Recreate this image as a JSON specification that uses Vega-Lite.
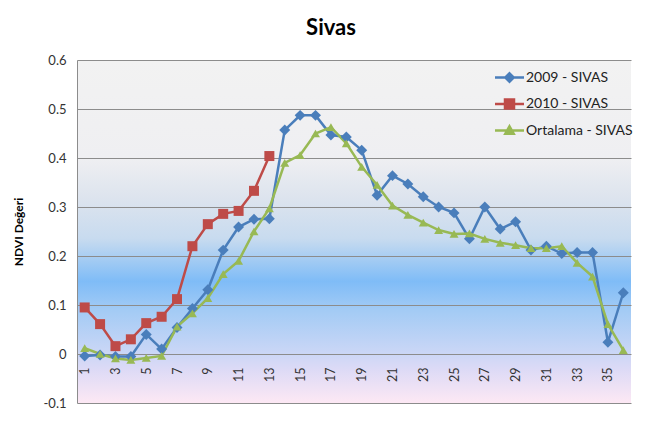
{
  "$schema": "https://vega.github.io/schema/vega-lite/v6.json",
  "autosize": {"type": "none"},
  "width": 554,
  "height": 343,
  "padding": {"left": 77, "top": 60, "right": 31, "bottom": 42},
  "background": "white",
  "title": {"text": "Sivas", "font": "Lato", "fontSize": 22, "fontWeight": "bold", "color": "#000000", "anchor": "middle", "dx": -23, "offset": 14},
  "config": {
    "font": "Lato",
    "view": {
      "stroke": null,
      "fill": {"gradient": "linear", "x1": 0, "y1": 0, "x2": 0, "y2": 1, "stops": [
        {"offset": 0, "color": "#f2f2f2"},
        {"offset": 0.286, "color": "#efeff2"},
        {"offset": 0.40, "color": "#dde4ee"},
        {"offset": 0.52, "color": "#c8dbef"},
        {"offset": 0.645, "color": "#7fbcf7"},
        {"offset": 0.73, "color": "#a3cbf5"},
        {"offset": 0.85, "color": "#c9d6f6"},
        {"offset": 0.90, "color": "#dcdaf6"},
        {"offset": 1, "color": "#fde8f4"}
      ]}
    },
    "legend": {"symbolOpacity": 1}
  },
  "data": {"values": [
    {"p":1,"s":"2009 - SIVAS","v":-0.004},{"p":2,"s":"2009 - SIVAS","v":-0.002},{"p":3,"s":"2009 - SIVAS","v":-0.005},{"p":4,"s":"2009 - SIVAS","v":-0.005},{"p":5,"s":"2009 - SIVAS","v":0.040},{"p":6,"s":"2009 - SIVAS","v":0.010},{"p":7,"s":"2009 - SIVAS","v":0.054},{"p":8,"s":"2009 - SIVAS","v":0.093},{"p":9,"s":"2009 - SIVAS","v":0.131},{"p":10,"s":"2009 - SIVAS","v":0.212},{"p":11,"s":"2009 - SIVAS","v":0.259},{"p":12,"s":"2009 - SIVAS","v":0.275},{"p":13,"s":"2009 - SIVAS","v":0.276},{"p":14,"s":"2009 - SIVAS","v":0.457},{"p":15,"s":"2009 - SIVAS","v":0.487},{"p":16,"s":"2009 - SIVAS","v":0.487},{"p":17,"s":"2009 - SIVAS","v":0.447},{"p":18,"s":"2009 - SIVAS","v":0.443},{"p":19,"s":"2009 - SIVAS","v":0.416},{"p":20,"s":"2009 - SIVAS","v":0.324},{"p":21,"s":"2009 - SIVAS","v":0.364},{"p":22,"s":"2009 - SIVAS","v":0.347},{"p":23,"s":"2009 - SIVAS","v":0.321},{"p":24,"s":"2009 - SIVAS","v":0.300},{"p":25,"s":"2009 - SIVAS","v":0.288},{"p":26,"s":"2009 - SIVAS","v":0.235},{"p":27,"s":"2009 - SIVAS","v":0.300},{"p":28,"s":"2009 - SIVAS","v":0.255},{"p":29,"s":"2009 - SIVAS","v":0.270},{"p":30,"s":"2009 - SIVAS","v":0.212},{"p":31,"s":"2009 - SIVAS","v":0.220},{"p":32,"s":"2009 - SIVAS","v":0.205},{"p":33,"s":"2009 - SIVAS","v":0.207},{"p":34,"s":"2009 - SIVAS","v":0.207},{"p":35,"s":"2009 - SIVAS","v":0.024},{"p":36,"s":"2009 - SIVAS","v":0.125},
    {"p":1,"s":"2010 - SIVAS","v":0.095},{"p":2,"s":"2010 - SIVAS","v":0.061},{"p":3,"s":"2010 - SIVAS","v":0.016},{"p":4,"s":"2010 - SIVAS","v":0.030},{"p":5,"s":"2010 - SIVAS","v":0.063},{"p":6,"s":"2010 - SIVAS","v":0.076},{"p":7,"s":"2010 - SIVAS","v":0.112},{"p":8,"s":"2010 - SIVAS","v":0.220},{"p":9,"s":"2010 - SIVAS","v":0.265},{"p":10,"s":"2010 - SIVAS","v":0.286},{"p":11,"s":"2010 - SIVAS","v":0.292},{"p":12,"s":"2010 - SIVAS","v":0.333},{"p":13,"s":"2010 - SIVAS","v":0.404},
    {"p":1,"s":"Ortalama - SIVAS","v":0.012},{"p":2,"s":"Ortalama - SIVAS","v":0.000},{"p":3,"s":"Ortalama - SIVAS","v":-0.009},{"p":4,"s":"Ortalama - SIVAS","v":-0.012},{"p":5,"s":"Ortalama - SIVAS","v":-0.008},{"p":6,"s":"Ortalama - SIVAS","v":-0.004},{"p":7,"s":"Ortalama - SIVAS","v":0.056},{"p":8,"s":"Ortalama - SIVAS","v":0.083},{"p":9,"s":"Ortalama - SIVAS","v":0.114},{"p":10,"s":"Ortalama - SIVAS","v":0.163},{"p":11,"s":"Ortalama - SIVAS","v":0.190},{"p":12,"s":"Ortalama - SIVAS","v":0.250},{"p":13,"s":"Ortalama - SIVAS","v":0.297},{"p":14,"s":"Ortalama - SIVAS","v":0.390},{"p":15,"s":"Ortalama - SIVAS","v":0.406},{"p":16,"s":"Ortalama - SIVAS","v":0.450},{"p":17,"s":"Ortalama - SIVAS","v":0.463},{"p":18,"s":"Ortalama - SIVAS","v":0.430},{"p":19,"s":"Ortalama - SIVAS","v":0.382},{"p":20,"s":"Ortalama - SIVAS","v":0.345},{"p":21,"s":"Ortalama - SIVAS","v":0.303},{"p":22,"s":"Ortalama - SIVAS","v":0.284},{"p":23,"s":"Ortalama - SIVAS","v":0.268},{"p":24,"s":"Ortalama - SIVAS","v":0.253},{"p":25,"s":"Ortalama - SIVAS","v":0.245},{"p":26,"s":"Ortalama - SIVAS","v":0.246},{"p":27,"s":"Ortalama - SIVAS","v":0.235},{"p":28,"s":"Ortalama - SIVAS","v":0.227},{"p":29,"s":"Ortalama - SIVAS","v":0.222},{"p":30,"s":"Ortalama - SIVAS","v":0.216},{"p":31,"s":"Ortalama - SIVAS","v":0.216},{"p":32,"s":"Ortalama - SIVAS","v":0.220},{"p":33,"s":"Ortalama - SIVAS","v":0.186},{"p":34,"s":"Ortalama - SIVAS","v":0.158},{"p":35,"s":"Ortalama - SIVAS","v":0.061},{"p":36,"s":"Ortalama - SIVAS","v":0.008}
  ]},
  "encoding": {
    "x": {"field": "p", "type": "ordinal", "scale": {"type": "point", "padding": 0.5},
      "axis": {"title": null, "values": [1,3,5,7,9,11,13,15,17,19,21,23,25,27,29,31,33,35], "labelAngle": -90, "offset": -49, "domain": false, "ticks": false, "grid": false, "labelPadding": 13, "labelFontSize": 12.5, "labelColor": "#333333", "labelFont": "Lato"}},
    "y": {"field": "v", "type": "quantitative", "scale": {"domain": [-0.1, 0.6], "nice": false, "zero": false},
      "axis": {"title": "NDVI Değeri", "titleFont": "Lato", "titleFontSize": 12, "titleFontWeight": "bold", "titleColor": "#000000", "titlePadding": 18,
        "values": [-0.1, 0, 0.1, 0.2, 0.3, 0.4, 0.5, 0.6], "labelExpr": "datum.value == 0 ? '0' : replace(format(datum.value, '.1f'), '\u2212', '-')",
        "grid": true, "gridColor": "#8c8c8c", "gridWidth": 1, "domain": true, "domainColor": "#8c8c8c", "ticks": false, "labelPadding": 11, "labelFontSize": 13, "labelColor": "#333333", "labelFont": "Lato"}}
  },
  "layer": [
    {
      "mark": {"type": "point", "filled": true, "size": 400, "strokeWidth": 2.5, "opacity": 0},
      "encoding": {
        "shape": {"field": "s", "type": "nominal",
          "scale": {"domain": ["2009 - SIVAS", "2010 - SIVAS", "Ortalama - SIVAS"], "range": [
            "M-1.45,0H1.45M0,-0.42L0.42,0L0,0.42L-0.42,0Z",
            "M-1.45,0H1.45M-0.45,-0.45H0.45V0.45H-0.45Z",
            "M-1.45,0H1.45M0,-0.42L0.42,0.32H-0.42Z"]},
          "legend": {"title": null, "orient": "none", "legendX": 421, "legendY": 6, "padding": 0, "rowPadding": 5.5, "symbolSize": 400, "symbolStrokeWidth": 2.5, "symbolOpacity": 1, "labelOffset": 5, "labelFont": "Lato", "labelFontSize": 14, "labelColor": "#222222", "labelLimit": 200}},
        "fill": {"field": "s", "type": "nominal",
          "scale": {"domain": ["2009 - SIVAS", "2010 - SIVAS", "Ortalama - SIVAS"], "range": ["#4a7ebb", "#be4b48", "#98b954"]},
          "legend": {"title": null, "orient": "none", "legendX": 421, "legendY": 6, "padding": 0, "rowPadding": 5.5, "symbolSize": 400, "symbolStrokeWidth": 2.5, "symbolOpacity": 1, "labelOffset": 5, "labelFont": "Lato", "labelFontSize": 14, "labelColor": "#222222", "labelLimit": 200}},
        "stroke": {"field": "s", "type": "nominal",
          "scale": {"domain": ["2009 - SIVAS", "2010 - SIVAS", "Ortalama - SIVAS"], "range": ["#4a7ebb", "#be4b48", "#98b954"]},
          "legend": {"title": null, "orient": "none", "legendX": 421, "legendY": 6, "padding": 0, "rowPadding": 5.5, "symbolSize": 400, "symbolStrokeWidth": 2.5, "symbolOpacity": 1, "labelOffset": 5, "labelFont": "Lato", "labelFontSize": 14, "labelColor": "#222222", "labelLimit": 200}}
      }
    },
    {
      "mark": {"type": "line", "strokeWidth": 2.5},
      "encoding": {
        "color": {"field": "s", "type": "nominal", "legend": null,
          "scale": {"domain": ["2009 - SIVAS", "2010 - SIVAS", "Ortalama - SIVAS"], "range": ["#4a7ebb", "#be4b48", "#98b954"]}}
      }
    },
    {
      "transform": [{"filter": "datum.s == '2009 - SIVAS'"}],
      "mark": {"type": "point", "shape": "diamond", "filled": true, "size": 120, "color": "#4a7ebb", "opacity": 1}
    },
    {
      "transform": [{"filter": "datum.s == '2010 - SIVAS'"}],
      "mark": {"type": "point", "shape": "square", "filled": true, "size": 100, "color": "#be4b48", "opacity": 1}
    },
    {
      "transform": [{"filter": "datum.s == 'Ortalama - SIVAS'"}],
      "mark": {"type": "point", "shape": "triangle-up", "filled": true, "size": 80, "color": "#98b954", "opacity": 1}
    }
  ]
}
